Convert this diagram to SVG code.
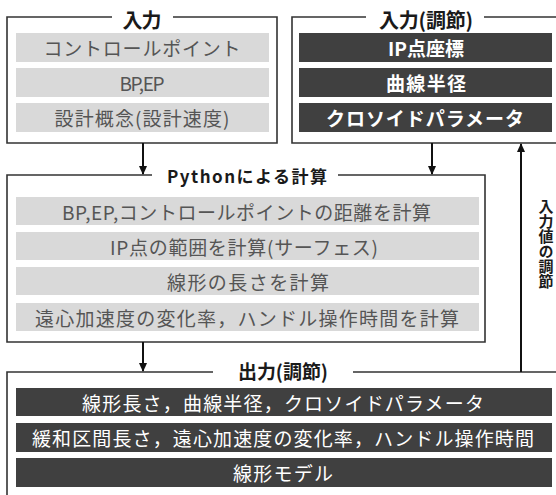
<svg xmlns="http://www.w3.org/2000/svg" width="556" height="495" viewBox="0 0 556 495">
<style>
text{font-family:"Noto Sans CJK JP","Noto Sans",sans-serif;}
.frame{fill:none;stroke:#333;stroke-width:1.6;}
.title{font-weight:bold;fill:#1a1a1a;text-anchor:middle;}
.lrow{fill:#d9d9d9;}
.drow{fill:#404040;}
.lt{fill:#555;font-size:19px;text-anchor:middle;dominant-baseline:central;}
.dt{fill:#fff;font-size:19px;text-anchor:middle;dominant-baseline:central;}
.b{font-weight:bold;}
.conn{stroke:#111;stroke-width:2;fill:none;}
.side{font-weight:bold;font-size:15px;fill:#1a1a1a;writing-mode:vertical-rl;}
</style>
<defs>
<marker id="ah" markerUnits="userSpaceOnUse" markerWidth="10" markerHeight="10" refX="8" refY="4" orient="auto">
<path d="M0,0 L9,4 L0,8 z" fill="#111"/>
</marker>
</defs>
<rect width="556" height="495" fill="#fff"/>

<g id="input">
<path class="frame" d="M112,17 H7 V143 H277 V17 H173"/>
<text class="title" x="142" y="28" font-size="20" textLength="39">入力</text>
<rect class="lrow" x="16" y="33" width="253" height="29"/>
<text class="lt" x="142" y="47.5" textLength="197">コントロールポイント</text>
<rect class="lrow" x="16" y="68" width="253" height="29"/>
<text class="lt" x="142" y="82.5" font-size="18" textLength="45">BP,EP</text>
<rect class="lrow" x="16" y="103" width="253" height="29"/>
<text class="lt" x="142" y="117.5" textLength="175">設計概念(設計速度)</text>
</g>

<g id="input-adjust">
<path class="frame" d="M366,17 H292 V143 H560 M484,17 H560"/>
<text class="title" x="426" y="28" font-size="20" textLength="94">入力(調節)</text>
<rect class="drow" x="299" y="33" width="253" height="29"/>
<text class="dt b" x="426" y="47.5" textLength="76">IP点座標</text>
<rect class="drow" x="299" y="68" width="253" height="29"/>
<text class="dt b" x="426" y="82.5" textLength="80">曲線半径</text>
<rect class="drow" x="299" y="103" width="253" height="29"/>
<text class="dt b" x="425" y="117.5" textLength="198">クロソイドパラメータ</text>
</g>

<g id="python">
<path class="frame" d="M152,175 H7 V342 H485 V175 H338"/>
<text class="title" x="247" y="183" font-size="17" textLength="160">Pythonによる計算</text>
<rect class="lrow" x="16" y="197" width="463" height="28"/>
<text class="lt" x="246.5" y="211" textLength="369">BP,EP,コントロールポイントの距離を計算</text>
<rect class="lrow" x="16" y="232" width="463" height="28"/>
<text class="lt" x="244" y="246" textLength="268">IP点の範囲を計算(サーフェス)</text>
<rect class="lrow" x="16" y="267" width="463" height="28"/>
<text class="lt" x="248" y="281" textLength="162">線形の長さを計算</text>
<rect class="lrow" x="16" y="303" width="463" height="28"/>
<text class="lt" x="247" y="317" textLength="424">遠心加速度の変化率，ハンドル操作時間を計算</text>
</g>

<g id="output">
<path class="frame" d="M213,372 H7 V500 M353,372 H560"/>
<text class="title" x="283" y="379" font-size="19" textLength="90">出力(調節)</text>
<rect class="drow" x="16" y="388" width="536" height="28"/>
<text class="dt" x="283" y="402" textLength="402">線形長さ，曲線半径，クロソイドパラメータ</text>
<rect class="drow" x="16" y="423" width="536" height="29"/>
<text class="dt" x="283" y="437.5" textLength="502">緩和区間長さ，遠心加速度の変化率，ハンドル操作時間</text>
<rect class="drow" x="16" y="458" width="536" height="29"/>
<text class="dt" x="283" y="472.5" textLength="100">線形モデル</text>
</g>

<g id="connectors">
<line class="conn" x1="143" y1="143" x2="143" y2="174" marker-end="url(#ah)"/>
<line class="conn" x1="432" y1="143" x2="432" y2="174" marker-end="url(#ah)"/>
<line class="conn" x1="143" y1="342" x2="143" y2="371" marker-end="url(#ah)"/>
<line class="conn" x1="521" y1="372" x2="521" y2="144" marker-end="url(#ah)"/>
<text class="side" x="546" y="199">入力値の調節</text>
</g>
</svg>
